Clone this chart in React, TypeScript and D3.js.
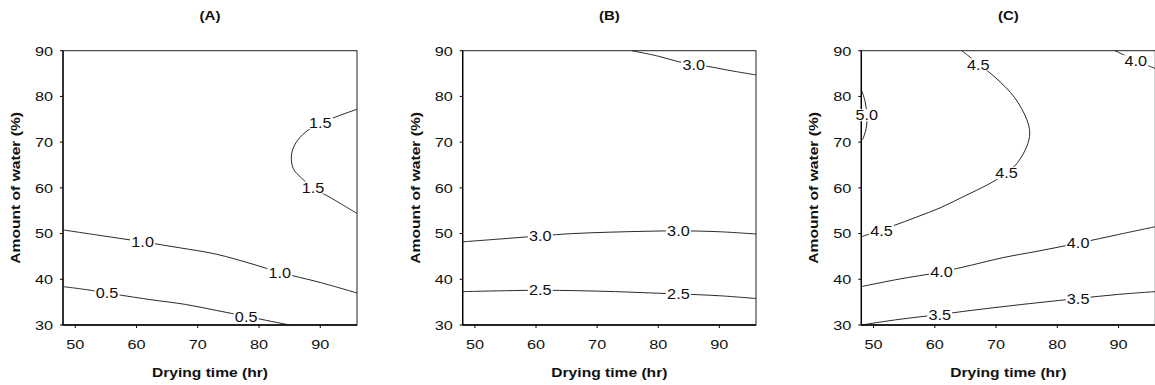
import React from 'react';
import * as d3 from 'd3';

const xTicks = [50, 60, 70, 80, 90];
const yTicks = [30, 40, 50, 60, 70, 80, 90];
const xDomain = [48, 96];
const yDomain = [30, 90];
const panelTitles = ['(A)', '(B)', '(C)'];
const xAxisTitle = 'Drying time (hr)';
const yAxisTitle = 'Amount of water (%)';

// Panel A contours [drying time, water %]
const a15 = [[96, 77.2], [92.5, 75.5], [90, 74.2], [87.6, 72.2], [86, 69.8], [85.3, 67.2], [85.6, 64.2], [86.9, 62.2], [88.8, 60.1], [92, 57.6], [96, 54.4]];
const a10 = [[48, 50.8], [54, 49.6], [61, 48.2], [67, 46.9], [73, 45.5], [79, 43.3], [83.4, 41.5], [90, 39.3], [96, 37.0]];
const a05 = [[48, 38.4], [52, 37.7], [55.2, 37.0], [62, 35.6], [68, 34.5], [73, 33.2], [77.9, 31.9], [82, 30.8], [85, 30]];
const aLabels = [
  { t: '1.5', x: 90.0, y: 74.2 }, { t: '1.5', x: 88.8, y: 60.1 },
  { t: '1.0', x: 61.0, y: 48.2 }, { t: '1.0', x: 83.4, y: 41.4 },
  { t: '0.5', x: 55.2, y: 37.0 }, { t: '0.5', x: 77.9, y: 31.9 },
];

// Panel B contours
const b30top = [[75.7, 90], [80, 88.8], [83.3, 87.6], [85.8, 87.0], [88, 86.6], [92, 85.6], [96, 84.7]];
const b30 = [[48, 48.2], [54, 48.8], [60.7, 49.5], [66, 50.0], [72, 50.3], [78, 50.5], [83.3, 50.6], [90, 50.4], [96, 49.9]];
const b25 = [[48, 37.3], [55, 37.5], [60.7, 37.6], [67, 37.5], [73, 37.3], [79, 37.0], [83.3, 36.8], [90, 36.4], [96, 35.8]];
const bLabels = [
  { t: '3.0', x: 85.8, y: 86.9 },
  { t: '3.0', x: 60.7, y: 49.5 }, { t: '3.0', x: 83.3, y: 50.6 },
  { t: '2.5', x: 60.7, y: 37.6 }, { t: '2.5', x: 83.3, y: 36.8 },
];

// Panel C contours
const c50 = [[48, 81.5], [48.6, 79], [48.9, 76], [48.8, 73], [48.2, 70.5]];
const c45top = [[64.4, 90], [67, 87.3], [70, 84], [73, 79.8], [75, 75], [75.5, 72], [75, 69], [73.5, 65.5], [71.7, 63.2], [68.5, 60.6], [65, 58.3], [61, 55.7], [57, 53.6], [53, 51.6], [48, 49.3]];
const c40top = [[89.4, 90], [91, 89], [92.8, 87.8], [94.5, 86.9], [96, 86.1]];
const c40 = [[48, 38.4], [54, 40.0], [61, 41.6], [66, 43.1], [71, 44.7], [77, 46.2], [83.4, 47.9], [90, 49.8], [96, 51.5]];
const c35 = [[48, 30], [54, 31.2], [60.8, 32.3], [66, 33.2], [71, 34.0], [77, 34.9], [83.4, 35.8], [90, 36.7], [96, 37.3]];
const cLabels = [
  { t: '5.0', x: 48.9, y: 75.9 },
  { t: '4.5', x: 67.1, y: 87.0 }, { t: '4.5', x: 71.7, y: 63.2 }, { t: '4.5', x: 51.3, y: 50.6 },
  { t: '4.0', x: 92.8, y: 87.7 }, { t: '4.0', x: 61.1, y: 41.6 }, { t: '4.0', x: 83.4, y: 47.9 },
  { t: '3.5', x: 60.8, y: 32.2 }, { t: '3.5', x: 83.4, y: 35.8 },
];

const panels = [
  { title: panelTitles[0], left: 63, right: 357, lines: [a15, a10, a05], labels: aLabels },
  { title: panelTitles[1], left: 462.7, right: 756, lines: [b30top, b30, b25], labels: bLabels },
  { title: panelTitles[2], left: 861.3, right: 1155.3, lines: [c50, c45top, c40top, c40, c35], labels: cLabels },
];

const TOP = 50.7;
const BOTTOM = 325;
const FONT = '"Liberation Sans", Arial, Helvetica, sans-serif';
const SX = 1.25;

function Panel({ p }: { p: any }) {
  const x = d3.scaleLinear().domain(xDomain).range([p.left, p.right]);
  const y = d3.scaleLinear().domain(yDomain).range([BOTTOM, TOP]);
  const line = d3.line<number[]>().x(d => x(d[0])).y(d => y(d[1])).curve(d3.curveCatmullRom.alpha(0.5));
  const cx = (p.left + p.right) / 2;
  const cy = (TOP + BOTTOM) / 2;
  return (
    <g>
      <text transform={`translate(${cx},19.5) scale(${SX},1)`} textAnchor="middle" fontFamily={FONT} fontWeight="bold" fontSize={12} fill="#111">{p.title}</text>
      {/* frame */}
      <rect x={p.left} y={TOP} width={p.right - p.left} height={BOTTOM - TOP} fill="none" stroke="#222" strokeWidth={1} />
      <line x1={p.left} x2={p.left} y1={TOP} y2={BOTTOM} stroke="#000" strokeWidth={1.3} />
      <line x1={p.left} x2={p.right} y1={BOTTOM} y2={BOTTOM} stroke="#000" strokeWidth={1.3} />
      {/* y ticks */}
      {yTicks.map(t => (
        <g key={'y' + t}>
          <line x1={p.left - 3} x2={p.left} y1={y(t)} y2={y(t)} stroke="#000" strokeWidth={1} />
          <text transform={`translate(${p.left - 10},${y(t) + 4.8}) scale(${SX},1)`} textAnchor="end" fontFamily={FONT} fontSize={13} fill="#111">{t}</text>
        </g>
      ))}
      {/* x ticks */}
      {xTicks.map(t => (
        <g key={'x' + t}>
          <line x1={x(t)} x2={x(t)} y1={BOTTOM} y2={BOTTOM + 3} stroke="#000" strokeWidth={1} />
          <text transform={`translate(${x(t)},${349}) scale(${SX},1)`} textAnchor="middle" fontFamily={FONT} fontSize={13} fill="#111">{t}</text>
        </g>
      ))}
      <text transform={`translate(${cx},${376.5}) scale(${SX},1)`} textAnchor="middle" fontFamily={FONT} fontWeight="bold" fontSize={12.5} fill="#111">{xAxisTitle}</text>
      <text transform={`translate(${p.left - 43},${cy}) rotate(-90) scale(${SX},1)`} textAnchor="middle" fontFamily={FONT} fontWeight="bold" fontSize={12.5} fill="#111">{yAxisTitle}</text>
      {/* contours */}
      {p.lines.map((l: number[][], i: number) => (
        <path key={'l' + i} d={line(l) || ''} fill="none" stroke="#111" strokeWidth={0.9} />
      ))}
      {p.labels.map((lb: any, i: number) => (
        <g key={'lb' + i} transform={`translate(${x(lb.x)},${y(lb.y)})`}>
          <rect x={-12.5} y={-6} width={25} height={12} fill="#fff" />
          <text transform={`translate(0,5.2) scale(1.12,1)`} textAnchor="middle" fontFamily={FONT} fontSize={14.5} fill="#111">{lb.t}</text>
        </g>
      ))}
    </g>
  );
}

export default function App() {
  return (
    <svg width={1155} height={385} style={{ position: 'absolute', left: 0, top: 0, background: '#fff' }}>
      <rect width={1155} height={385} fill="#fff" />
      {panels.map((p, i) => <Panel key={i} p={p} />)}
    </svg>
  );
}
